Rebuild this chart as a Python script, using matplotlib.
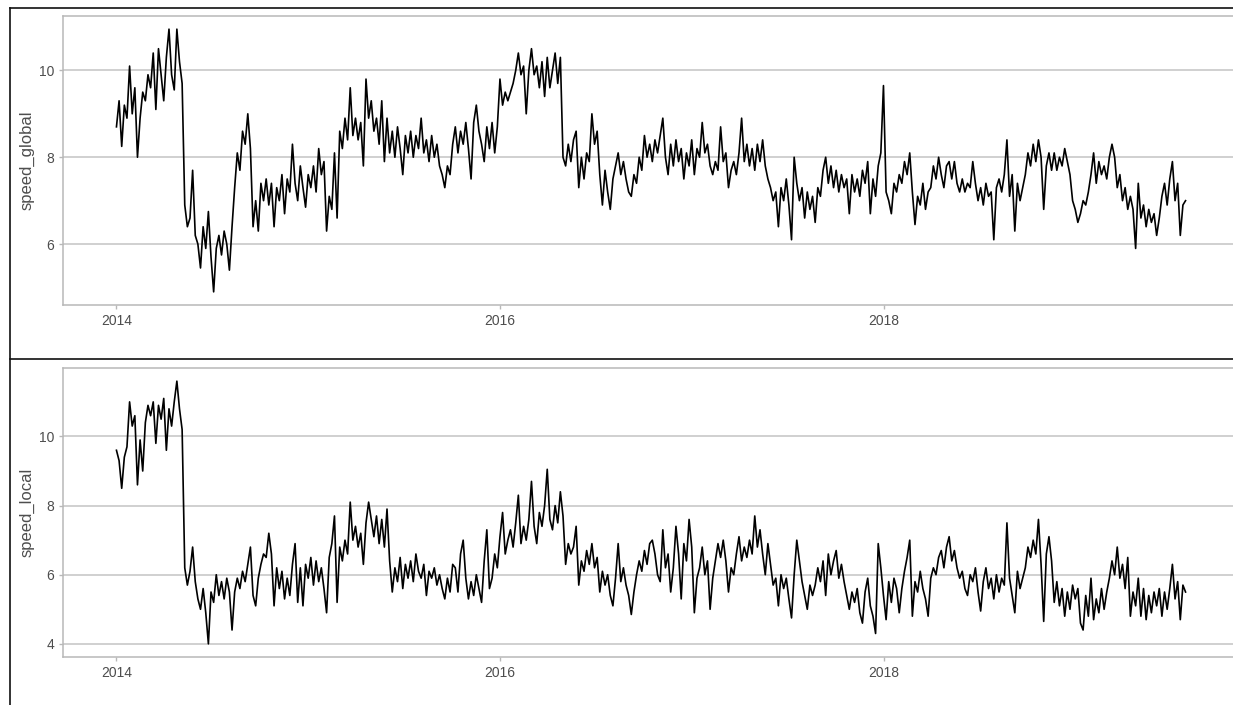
import pandas as pd
import matplotlib
matplotlib.use("Agg")
import matplotlib.pyplot as plt
import matplotlib.dates as mdates
from matplotlib.lines import Line2D

plt.rcParams['font.family'] = ['Liberation Sans', 'DejaVu Sans']

# values, one every 5 days from 2014-01-01
speed_global = [
    8.7, 9.3, 8.25, 9.2, 8.9, 10.1, 9.0, 9.6, 8.0, 8.9, 9.5, 9.3, 9.9, 9.6, 10.4, 9.1, 10.5, 9.9, 9.3, 10.3,
    10.95, 9.9, 9.55, 10.95, 10.2, 9.7, 6.9, 6.4, 6.6, 7.7, 6.2, 6.0, 5.45, 6.4, 5.9, 6.75, 5.7, 4.9, 5.9, 6.2,
    5.75, 6.3, 6.0, 5.4, 6.4, 7.3, 8.1, 7.7, 8.6, 8.3, 9.0, 8.2, 6.4, 7.0, 6.3, 7.4, 7.0, 7.5, 6.9, 7.4,
    6.4, 7.3, 7.0, 7.6, 6.7, 7.5, 7.2, 8.3, 7.4, 7.0, 7.8, 7.3, 6.85, 7.6, 7.3, 7.8, 7.2, 8.2, 7.6, 7.9,
    6.3, 7.1, 6.8, 8.1, 6.6, 8.6, 8.2, 8.9, 8.4, 9.6, 8.5, 8.9, 8.4, 8.8, 7.8, 9.8, 8.9, 9.3, 8.6, 8.9,
    8.3, 9.3, 7.9, 8.9, 8.1, 8.6, 8.0, 8.7, 8.2, 7.6, 8.5, 8.1, 8.6, 8.0, 8.5, 8.2, 8.9, 8.1, 8.4, 7.9,
    8.5, 8.0, 8.3, 7.8, 7.6, 7.3, 7.8, 7.6, 8.3,
    8.7, 8.1, 8.6, 8.3, 8.8, 8.2, 7.5, 8.8, 9.2, 8.6, 8.3, 7.9, 8.7, 8.2, 8.8, 8.1, 8.7, 9.8, 9.2, 9.5,
    9.3, 9.5, 9.7, 10.0, 10.4, 9.9, 10.1, 9.0, 10.0, 10.5, 9.9, 10.1, 9.6, 10.2, 9.4, 10.3, 9.6, 10.0, 10.4, 9.7,
    10.3, 8.0, 7.8, 8.3, 7.9, 8.4, 8.6, 7.3, 8.0, 7.5, 8.1, 7.9, 9.0, 8.3, 8.6, 7.6, 6.9, 7.7, 7.2, 6.8,
    7.5, 7.8, 8.1, 7.6, 7.9, 7.5, 7.2, 7.1, 7.6, 7.4, 8.0, 7.7, 8.5, 8.0, 8.3, 7.9, 8.4, 8.1, 8.5, 8.9,
    8.0, 7.6, 8.3, 7.8, 8.4, 7.9, 8.2, 7.5, 8.1, 7.8, 8.4, 7.6, 8.2, 8.0, 8.8, 8.1, 8.3, 7.8, 7.6, 7.9,
    7.7, 8.7, 7.9, 8.1, 7.3, 7.7, 7.9, 7.6, 8.1, 8.9, 7.9, 8.3, 7.8, 8.2, 7.7, 8.3, 7.9, 8.4, 7.8, 7.5,
    7.3, 7.0, 7.2, 6.4, 7.3, 7.0, 7.5, 6.9, 6.1, 8.0, 7.4, 7.0, 7.3, 6.6, 7.2, 6.8, 7.1,
    6.5, 7.3, 7.1, 7.7, 8.0, 7.4, 7.8, 7.3, 7.7, 7.2, 7.6, 7.3, 7.5, 6.7, 7.6, 7.2, 7.5, 7.1, 7.7, 7.4,
    7.9, 6.7, 7.5, 7.1, 7.8, 8.1, 9.65, 7.2, 7.0, 6.7, 7.4, 7.2, 7.6, 7.4, 7.9, 7.6, 8.1, 7.2, 6.45, 7.1,
    6.9, 7.4, 6.8, 7.2, 7.3, 7.8, 7.5, 8.0, 7.6, 7.3, 7.8, 7.9, 7.5, 7.9, 7.4, 7.2, 7.5, 7.2, 7.4, 7.3,
    7.9, 7.4, 7.0, 7.3, 6.9, 7.4, 7.1, 7.2, 6.1, 7.3, 7.5, 7.2, 7.6, 8.4, 7.1, 7.6, 6.3, 7.4, 7.0, 7.3,
    7.6, 8.1, 7.8, 8.3, 7.9, 8.4, 8.0, 6.8, 7.8, 8.1, 7.7, 8.1, 7.7, 8.0, 7.8, 8.2, 7.9, 7.6, 7.0, 6.8,
    6.5, 6.7, 7.0, 6.9, 7.2, 7.6, 8.1, 7.4, 7.9, 7.6, 7.8, 7.5, 8.0, 8.3, 8.0, 7.3, 7.6, 7.0, 7.3, 6.8,
    7.1, 6.8, 5.9, 7.4, 6.6, 6.9, 6.4, 6.8, 6.5, 6.7, 6.2, 6.6, 7.1, 7.4, 6.9, 7.5, 7.9, 7.0, 7.4, 6.2,
    6.9, 7.0,
]

speed_local = [
    9.6, 9.3, 8.5, 9.4, 9.7, 11.0, 10.3, 10.6, 8.6, 9.9, 9.0, 10.4, 10.9, 10.6, 11.0, 9.8, 10.9, 10.5, 11.1, 9.6,
    10.8, 10.3, 11.0, 11.6, 10.8, 10.2, 6.2, 5.7, 6.1, 6.8, 5.8, 5.3, 5.0, 5.6, 4.9, 4.0, 5.5, 5.2, 6.0, 5.4,
    5.8, 5.3, 5.9, 5.5, 4.4, 5.5, 5.9, 5.6, 6.1, 5.8, 6.3, 6.8, 5.4, 5.1, 5.9, 6.3, 6.6, 6.5, 7.2, 6.6,
    5.1, 6.2, 5.6, 6.1, 5.3, 5.9, 5.4, 6.3, 6.9, 5.2, 6.2, 5.1, 6.3, 5.9, 6.5, 5.7, 6.4, 5.8, 6.2, 5.6,
    4.9, 6.5, 6.9, 7.7, 5.2, 6.8, 6.4, 7.0, 6.6, 8.1, 7.0, 7.4, 6.8, 7.2, 6.3, 7.5, 8.1, 7.6, 7.1, 7.7,
    6.9, 7.6, 6.8, 7.9, 6.4, 5.5, 6.2, 5.8, 6.5, 5.6, 6.3, 5.9, 6.4, 5.8, 6.6, 6.1, 5.9, 6.3, 5.4, 6.1,
    5.9, 6.2, 5.7, 6.0, 5.6, 5.3, 5.9, 5.5, 6.3,
    6.2, 5.5, 6.6, 7.0, 5.9, 5.3, 5.8, 5.4, 6.0, 5.6, 5.2, 6.4, 7.3, 5.6, 5.9, 6.6, 6.2, 7.1, 7.8, 6.6,
    7.0, 7.3, 6.8, 7.5, 8.3, 6.9, 7.4, 7.0, 7.6, 8.7, 7.4, 6.9, 7.8, 7.4, 8.0, 9.05, 7.6, 7.3, 8.0, 7.5,
    8.4, 7.7, 6.3, 6.9, 6.6, 6.8, 7.4, 5.7, 6.4, 6.1, 6.7, 6.3, 6.9, 6.2, 6.5, 5.5, 6.1, 5.7, 6.0, 5.4,
    5.1, 5.9, 6.9, 5.8, 6.2, 5.7, 5.4, 4.85, 5.5, 6.0, 6.4, 6.1, 6.7, 6.3, 6.9, 7.0, 6.6, 6.0, 5.8, 7.3,
    6.2, 6.6, 5.5, 6.2, 7.4, 6.6, 5.3, 6.9, 6.4, 7.6, 6.8, 4.9, 5.9, 6.2, 6.8, 6.0, 6.4, 5.0, 5.9, 6.4,
    6.9, 6.5, 7.0, 6.4, 5.5, 6.2, 6.0, 6.6, 7.1, 6.4, 6.8, 6.5, 7.0, 6.6, 7.7, 6.8, 7.3, 6.6, 6.0, 6.9,
    6.3, 5.7, 5.9, 5.1, 6.0, 5.6, 5.9, 5.3, 4.75, 6.0, 7.0, 6.4, 5.8, 5.4, 5.0, 5.7, 5.4,
    5.7, 6.2, 5.8, 6.4, 5.4, 6.6, 6.0, 6.4, 6.7, 5.9, 6.3, 5.8, 5.4, 5.0, 5.5, 5.2, 5.6, 4.9, 4.6, 5.5,
    5.9, 5.1, 4.8, 4.3, 6.9, 6.2, 5.4, 4.7, 5.8, 5.2, 5.9, 5.6, 4.9, 5.6, 6.1, 6.5, 7.0, 4.8, 5.8, 5.5,
    6.1, 5.6, 5.3, 4.8, 5.9, 6.2, 6.0, 6.5, 6.7, 6.2, 6.8, 7.1, 6.4, 6.7, 6.2, 5.9, 6.1, 5.6, 5.4, 6.0,
    5.8, 6.2, 5.5, 4.95, 5.8, 6.2, 5.6, 5.9, 5.3, 6.0, 5.5, 5.9, 5.7, 7.5, 5.9, 5.4, 4.9, 6.1, 5.6, 5.9,
    6.2, 6.8, 6.5, 7.0, 6.6, 7.6, 6.3, 4.65, 6.6, 7.1, 6.4, 5.2, 5.8, 5.1, 5.6, 4.8, 5.5, 5.0, 5.7, 5.3,
    5.6, 4.6, 4.4, 5.4, 4.8, 5.9, 4.7, 5.3, 4.9, 5.6, 5.0, 5.5, 5.9, 6.4, 6.0, 6.8, 5.9, 6.3, 5.6, 6.5,
    4.8, 5.5, 5.1, 5.9, 4.8, 5.6, 4.7, 5.4, 4.9, 5.5, 5.1, 5.6, 4.8, 5.5, 5.0, 5.6, 6.3, 5.3, 5.8, 4.7,
    5.7, 5.5,
]

dates = pd.date_range("2014-01-01", periods=len(speed_global), freq="5D")
year_ticks = pd.to_datetime(["2014-01-01", "2016-01-01", "2018-01-01"])

fig = plt.figure(figsize=(12.33, 7.05), dpi=100)
W, H = 1233, 705

grid_col = "#c4c4c4"
text_col = "#4d4d4d"

def panel(top_px, bottom_px, values, name, yticks):
    ax = fig.add_axes([63 / W, 1 - bottom_px / H, (1239 - 63) / W, (bottom_px - top_px) / H])
    ax.plot(dates, values, color="black", lw=1.2)
    span = dates[-1] - dates[0]
    ax.set_xlim(dates[0] - span * 0.05, dates[-1] + span * 0.05)
    lo, hi = min(values), max(values)
    pad = (hi - lo) * 0.05
    ax.set_ylim(lo - pad, hi + pad)
    ax.set_yticks(yticks)
    ax.set_xticks(year_ticks)
    ax.xaxis.set_major_formatter(mdates.DateFormatter("%Y"))
    ax.grid(axis="y", color=grid_col, lw=1.1)
    ax.set_axisbelow(True)
    for s in ax.spines.values():
        s.set_color("#b8b8b8")
        s.set_linewidth(1.1)
    ax.tick_params(colors="#b8b8b8", labelcolor=text_col, labelsize=10, length=3, width=1)
    ax.set_ylabel(name, fontsize=12, color=text_col)
    ax.yaxis.set_label_coords(-0.024, 0.5)
    return ax

panel(16, 305, speed_global, "speed_global", [6, 8, 10])
panel(368, 657, speed_local, "speed_local", [4, 6, 8, 10])

# black frames of the two stacked images
for y in [8, 358.5]:
    fig.add_artist(Line2D([9.5 / W, 1], [1 - y / H, 1 - y / H], color="#111111", lw=1.2))
fig.add_artist(Line2D([9.5 / W, 9.5 / W], [0, 1 - 8 / H], color="#111111", lw=1.2))

fig.savefig("out.png", dpi=100)
